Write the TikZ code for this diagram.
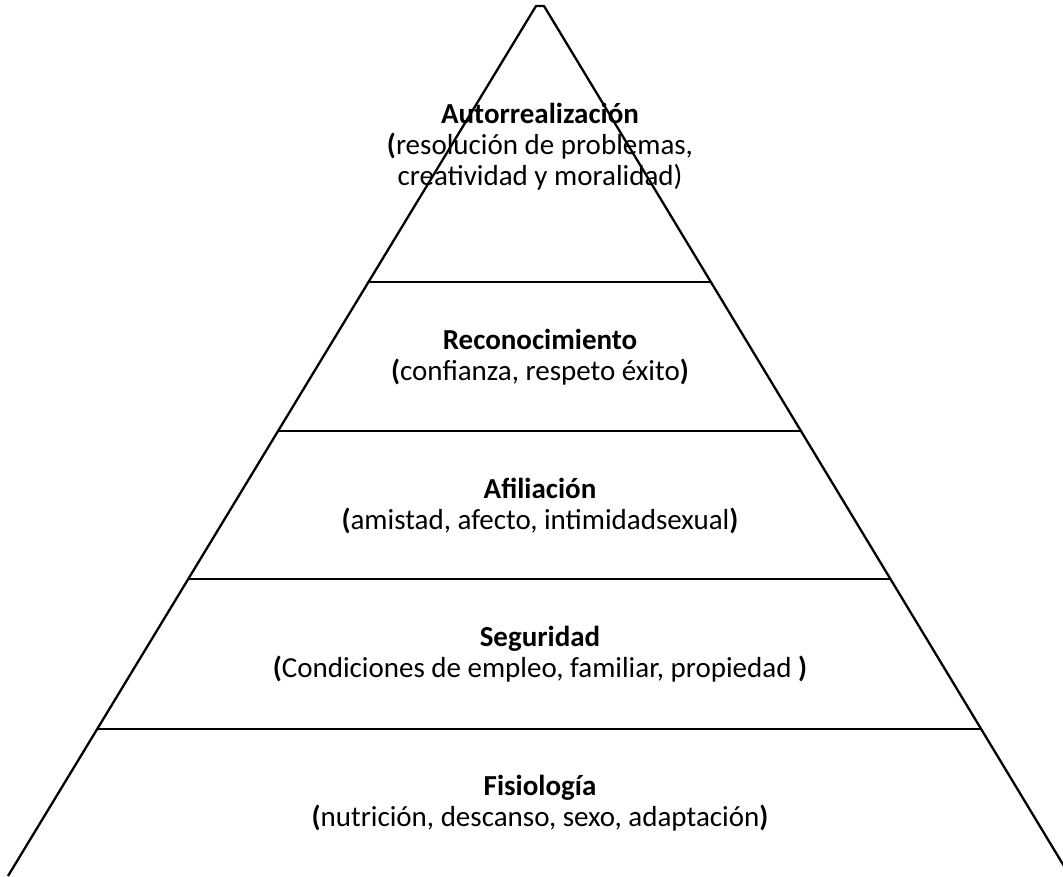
\documentclass[tikz,border=0pt]{standalone}
\usepackage{fontspec}
\setmainfont{Carlito}
\begin{document}
\begin{tikzpicture}[x=1pt,y=-1pt,
  side/.style={line width=2.3pt,line join=round},
  level/.style={line width=2.7pt},
  lbl/.style={align=center,font=\fontsize{29}{31}\selectfont,inner sep=0pt}]
\useasboundingbox (0,0) rectangle (1063,876);
\clip (0,0) rectangle (1063,876);
\coordinate (BL) at (8,876);
\coordinate (TL) at (536,6);
\coordinate (TR) at (544,6);
\coordinate (BR) at (1070,876);
\draw[side] (BL) -- (TL) -- (TR) -- (BR);
% level lines
\coordinate (L1) at (368.5,282); \coordinate (R1) at (711,282);
\coordinate (L2) at (278,431);   \coordinate (R2) at (801,431);
\coordinate (L3) at (188,579);   \coordinate (R3) at (891,579);
\coordinate (L4) at (97,729);    \coordinate (R4) at (981,729);
\draw[level] (L1) -- (R1);
\draw[level] (L2) -- (R2);
\draw[level] (L3) -- (R3);
\draw[level] (L4) -- (R4);
\node[lbl] (t1) at (540,147) {\textbf{Autorrealización}\\\textbf{(}resolución de problemas,\\creatividad y moralidad)};
\node[lbl] (t2) at (540,357) {\textbf{Reconocimiento}\\\textbf{(}confianza, respeto éxito\textbf{)}};
\node[lbl] (t3) at (540,506) {\textbf{Afiliación}\\\textbf{(}amistad, afecto, intimidadsexual\textbf{)}};
\node[lbl] (t4) at (540,654) {\textbf{Seguridad}\\\textbf{(}Condiciones de empleo, familiar, propiedad \textbf{)}};
\node[lbl] (t5) at (540,803) {\textbf{Fisiología}\\\textbf{(}nutrición, descanso, sexo, adaptación\textbf{)}};
\end{tikzpicture}
\end{document}
